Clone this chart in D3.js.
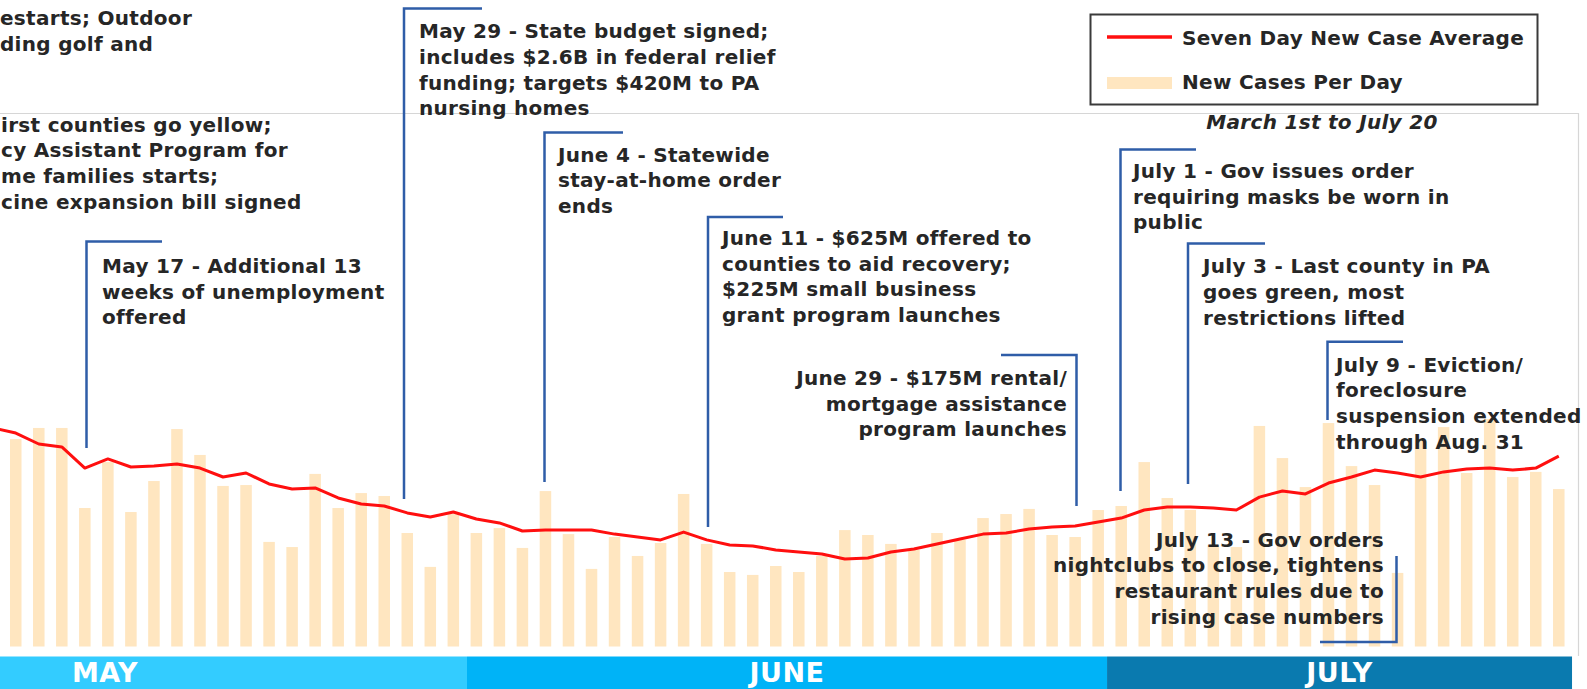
<!DOCTYPE html>
<html><head><meta charset="utf-8">
<script src="https://cdn.jsdelivr.net/npm/d3@7"></script>
<style>body{margin:0;background:#fff}svg{display:block}</style>
</head><body>
<script>
// ---------- DATA ----------
const dates = ["May 13","May 14","May 15","May 16","May 17","May 18","May 19","May 20","May 21","May 22","May 23","May 24","May 25","May 26","May 27","May 28","May 29","May 30","May 31",
"Jun 1","Jun 2","Jun 3","Jun 4","Jun 5","Jun 6","Jun 7","Jun 8","Jun 9","Jun 10","Jun 11","Jun 12","Jun 13","Jun 14","Jun 15","Jun 16","Jun 17","Jun 18","Jun 19","Jun 20","Jun 21","Jun 22","Jun 23","Jun 24","Jun 25","Jun 26","Jun 27","Jun 28","Jun 29","Jun 30",
"Jul 1","Jul 2","Jul 3","Jul 4","Jul 5","Jul 6","Jul 7","Jul 8","Jul 9","Jul 10","Jul 11","Jul 12","Jul 13","Jul 14","Jul 15","Jul 16","Jul 17","Jul 18","Jul 19","Jul 20"];
const newCases = [null,
 930,980,980,621,827,603,742,975,859,720,724,469,446,774,621,688,675,509,357,594,
 509,531,442,697,504,348,491,406,464,684,460,334,321,361,334,406,522,500,460,433,
 509,478,576,594,617,500,491,612,630,827,666,612,455,446,989,845,715,1002,809,724,
 330,926,984,778,1020,760,783,706];
const sevenDayAvg = [980,
 957,908,895,800,841,805,809,818,800,760,778,729,706,711,666,639,630,599,581,603,
 572,554,518,522,522,522,504,491,478,513,478,455,451,433,424,415,392,397,424,437,
 460,482,504,509,527,536,540,558,576,612,626,626,621,612,670,697,684,733,760,791,
 778,760,783,796,800,791,800,854];
const months = ["MAY","JUNE","JULY"];
const legendLabels = ["Seven Day New Case Average","New Cases Per Day"];
const subtitle = "March 1st to July 20";

// ---------- LAYOUT (annotation placement, band extents) ----------
const monthSpan = [[-11.84,19.594],[19.594,47.385],[47.385,67.575]]; // in day steps from May 14
const monthColors = ["#33CCFF","#00B3F7","#0A7AAF"];
const annotations = [
  {lines:["estarts; Outdoor","ding golf and"], x:0, y:25, anchor:"start"},
  {lines:["irst counties go yellow;","cy Assistant Program for","me families starts;","cine expansion bill signed"], x:1, y:131.5, anchor:"start"},
  {lines:["May 17 - Additional 13","weeks of unemployment","offered"], x:102, y:273, anchor:"start", br:{type:"left", x:86.5, y0:241.5, y1:448, h:162}},
  {lines:["May 29 - State budget signed;","includes $2.6B in federal relief","funding; targets $420M to PA","nursing homes"], x:419, y:38.3, anchor:"start", br:{type:"left", x:404, y0:8.5, y1:499, h:482}},
  {lines:["June 4 - Statewide","stay-at-home order","ends"], x:558, y:161.7, anchor:"start", br:{type:"left", x:544.5, y0:132.5, y1:482, h:623}},
  {lines:["June 11 - $625M offered to","counties to aid recovery;","$225M small business","grant program launches"], x:722, y:245, anchor:"start", br:{type:"left", x:708, y0:217, y1:527, h:783}},
  {lines:["June 29 - $175M rental/","mortgage assistance","program launches"], x:1067, y:385, anchor:"end", br:{type:"right", x:1076.5, y0:355, y1:506, h:1001}},
  {lines:["July 1 - Gov issues order","requiring masks be worn in","public"], x:1133, y:178, anchor:"start", br:{type:"left", x:1120.5, y0:149.5, y1:491, h:1196}},
  {lines:["July 3 - Last county in PA","goes green, most","restrictions lifted"], x:1203, y:273.3, anchor:"start", br:{type:"left", x:1188, y0:243.5, y1:484, h:1265}},
  {lines:["July 9 - Eviction/","foreclosure","suspension extended","through Aug. 31"], x:1336, y:371.7, anchor:"start", br:{type:"left", x:1327.5, y0:341.7, y1:420, h:1403}},
  {lines:["July 13 - Gov orders","nightclubs to close, tightens","restaurant rules due to","rising case numbers"], x:1384, y:546.7, anchor:"end", br:{type:"bottom", x:1396.5, y0:556, y1:642, h:1320}}
];

// ---------- CHART ----------
const W = 1587, H = 689;
const FONT = "'DejaVu Sans', Verdana, sans-serif";
const TEXT = "#262626";
const svg = d3.select("body").append("svg").attr("width", W).attr("height", H)
  .style("background", "#fff");

const x = d3.scaleBand().domain(dates).range([-18.8, 1570.3]).paddingInner(0.5).paddingOuter(0.25);
const y = d3.scaleLinear().domain([0, 1000]).range([646.5, 423.5]);
const step = x.step();
const cx = d => x(d) + x.bandwidth() / 2;
const posX = i => cx("May 14") + i * step;

// plot frame (top + right)
svg.append("path").attr("d", `M0,113.5H1578.5V656`).attr("fill", "none")
  .attr("stroke", "#d6d6d6").attr("stroke-width", 1.2);

// bars
svg.append("g").selectAll("rect")
  .data(dates.map((d, i) => ({d, v: newCases[i]})).filter(o => o.v != null))
  .join("rect")
  .attr("x", o => x(o.d)).attr("width", x.bandwidth())
  .attr("y", o => y(o.v)).attr("height", o => y(0) - y(o.v))
  .attr("fill", "#FFE6C0");

// seven day average line
const line = d3.line().x((v, i) => cx(dates[i])).y(v => y(v));
svg.append("path").attr("d", line(sevenDayAvg)).attr("fill", "none")
  .attr("stroke", "#FF0F0F").attr("stroke-width", 3).attr("stroke-linejoin", "round");

// month bands
const mg = svg.append("g");
months.forEach((m, i) => {
  const x0 = posX(monthSpan[i][0]), x1 = posX(monthSpan[i][1]);
  mg.append("rect").attr("x", x0).attr("y", 656.5).attr("width", x1 - x0).attr("height", H - 656.5)
    .attr("fill", monthColors[i]);
  mg.append("text").attr("x", (x0 + x1) / 2).attr("y", 682).attr("text-anchor", "middle")
    .attr("font-family", FONT).attr("font-weight", "bold").attr("font-size", 27)
    .attr("letter-spacing", 0.5).attr("fill", "#fff").text(m);
});

// annotations
const ag = svg.append("g");
annotations.forEach(a => {
  if (a.br) {
    const b = a.br;
    let d;
    if (b.type === "left" || b.type === "right") d = `M${b.h},${b.y0}H${b.x}V${b.y1}`;
    else d = `M${b.x},${b.y0}V${b.y1}H${b.h}`;
    ag.append("path").attr("d", d).attr("fill", "none").attr("stroke", "#2F5DA8").attr("stroke-width", 2.5);
  }
  const t = ag.append("text").attr("font-family", FONT).attr("font-weight", "bold")
    .attr("font-size", 20).attr("letter-spacing", 0.3).attr("fill", TEXT)
    .attr("text-anchor", a.anchor);
  a.lines.forEach((l, i) => t.append("tspan").attr("x", a.x).attr("y", a.y + i * 25.7).text(l));
});

// subtitle
svg.append("text").attr("x", 1322).attr("y", 129).attr("text-anchor", "middle")
  .attr("font-family", FONT).attr("font-weight", "bold").attr("font-style", "italic")
  .attr("font-size", 20).attr("letter-spacing", 0.3).attr("fill", TEXT).text(subtitle);

// legend
const lg = svg.append("g");
lg.append("rect").attr("x", 1090.5).attr("y", 14.5).attr("width", 447).attr("height", 90)
  .attr("fill", "#fff").attr("stroke", "#3a3a3a").attr("stroke-width", 2);
lg.append("line").attr("x1", 1107).attr("x2", 1172).attr("y1", 37).attr("y2", 37)
  .attr("stroke", "#FF0F0F").attr("stroke-width", 3.5);
lg.append("rect").attr("x", 1107).attr("y", 77).attr("width", 65).attr("height", 12).attr("fill", "#FFE6C0");
legendLabels.forEach((l, i) => lg.append("text").attr("x", 1182).attr("y", [44.5, 89][i])
  .attr("font-family", FONT).attr("font-weight", "bold").attr("font-size", 20)
  .attr("letter-spacing", 0.3).attr("fill", TEXT).text(l));
</script>
</body></html>
